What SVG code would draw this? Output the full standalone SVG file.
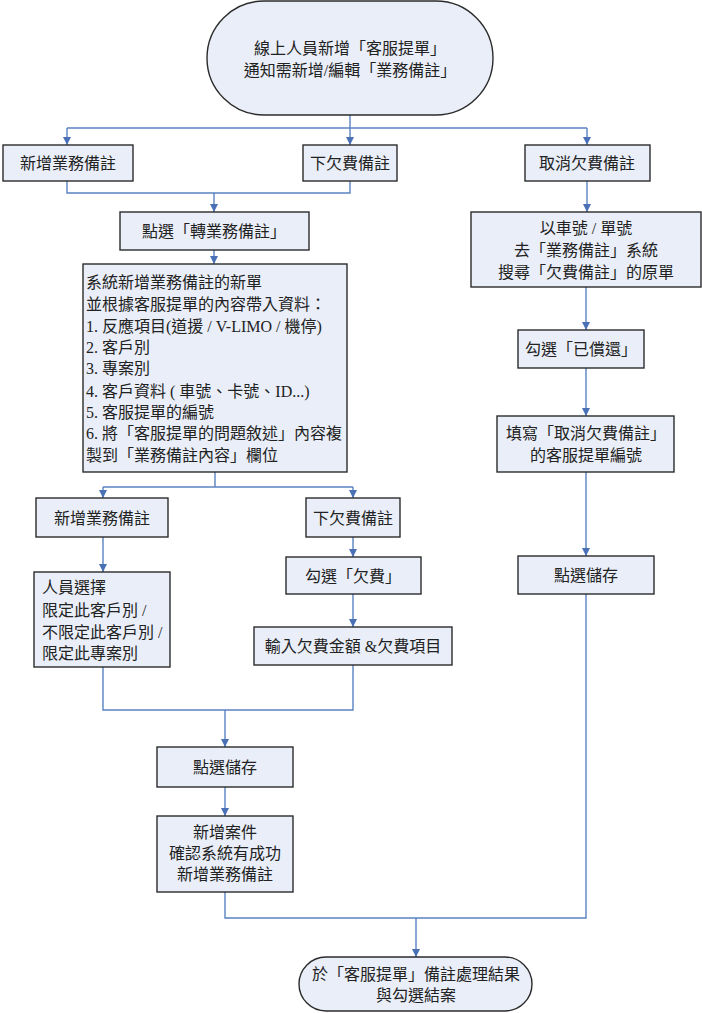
<svg xmlns="http://www.w3.org/2000/svg" width="702" height="1013" viewBox="0 0 702 1013">
<style>
.box{fill:#e9eef8;stroke:#2b2b2b;stroke-width:1.4}
.t{font-family:"Liberation Serif","Noto Sans CJK TC",serif;font-size:16px;fill:#222;dominant-baseline:central}
.c{text-anchor:middle}
.l{text-anchor:start}
.ln{fill:none;stroke:#5a82c2;stroke-width:1.4}
.ar{marker-end:url(#ah)}
</style>
<defs>
<marker id="ah" markerUnits="userSpaceOnUse" markerWidth="8" markerHeight="8" refX="8" refY="4" orient="auto">
<path d="M0,0 L8,4 L0,8 z" fill="#4a70b5"/>
</marker>
</defs>
<g id="connectors">
<path class="ln ar" d="M350,115 V145"/>
<path class="ln" d="M67,128 H587"/>
<path class="ln ar" d="M67,128 V145"/>
<path class="ln ar" d="M587,128 V145"/>
<path class="ln" d="M67,181 V193 H350 V181"/>
<path class="ln ar" d="M214,193 V212"/>
<path class="ln ar" d="M214,250 V264"/>
<path class="ln" d="M215,472 V487"/>
<path class="ln" d="M103,487 H353"/>
<path class="ln ar" d="M103,487 V498"/>
<path class="ln ar" d="M353,487 V498"/>
<path class="ln ar" d="M103,537 V572"/>
<path class="ln ar" d="M353,537 V557"/>
<path class="ln ar" d="M353,594 V627"/>
<path class="ln" d="M103,667 V710 H353 V665"/>
<path class="ln ar" d="M225,710 V747"/>
<path class="ln ar" d="M225,787 V816"/>
<path class="ln" d="M225,892 V918 H586 V594"/>
<path class="ln ar" d="M416,918 V957"/>
<path class="ln ar" d="M587,181 V212"/>
<path class="ln ar" d="M586,287 V330"/>
<path class="ln ar" d="M586,368 V416"/>
<path class="ln ar" d="M586,472 V556"/>
</g>
<g id="start">
<rect class="box" x="207" y="1" width="286" height="114" rx="57" ry="57"/>
<text class="t c" x="350" y="48">線上人員新增「客服提單」</text>
<text class="t c" x="350" y="70">通知需新增/編輯「業務備註」</text>
</g>
<g id="a_new">
<rect class="box" x="3" y="145" width="130" height="36"/>
<text class="t c" x="68" y="163">新增業務備註</text>
</g>
<g id="b_owe">
<rect class="box" x="303" y="145" width="94" height="36"/>
<text class="t c" x="350" y="163">下欠費備註</text>
</g>
<g id="c_cancel">
<rect class="box" x="525" y="145" width="125" height="36"/>
<text class="t c" x="587" y="163">取消欠費備註</text>
</g>
<g id="d_click">
<rect class="box" x="120" y="212" width="189" height="38"/>
<text class="t c" x="214" y="231">點選「轉業務備註」</text>
</g>
<g id="e_system">
<rect class="box" x="83" y="264" width="264" height="208"/>
<text class="t l" x="86" y="282">系統新增業務備註的新單</text>
<text class="t l" x="86" y="304">並根據客服提單的內容帶入資料：</text>
<text class="t l" x="86" y="326">1. 反應項目(道援 / V-LIMO / 機停)</text>
<text class="t l" x="86" y="347">2. 客戶別</text>
<text class="t l" x="86" y="368">3. 專案別</text>
<text class="t l" x="86" y="391">4. 客戶資料 ( 車號、卡號、ID...)</text>
<text class="t l" x="86" y="412">5. 客服提單的編號</text>
<text class="t l" x="86" y="433">6. 將「客服提單的問題敘述」內容複</text>
<text class="t l" x="86" y="455">製到「業務備註內容」欄位</text>
</g>
<g id="f_search">
<rect class="box" x="471" y="212" width="230" height="75"/>
<text class="t c" x="586" y="228">以車號 / 單號</text>
<text class="t c" x="586" y="250">去「業務備註」系統</text>
<text class="t c" x="586" y="272">搜尋「欠費備註」的原單</text>
</g>
<g id="g_repaid">
<rect class="box" x="518" y="330" width="126" height="38"/>
<text class="t c" x="581" y="349">勾選「已償還」</text>
</g>
<g id="h_fill">
<rect class="box" x="497" y="416" width="177" height="56"/>
<text class="t c" x="586" y="433">填寫「取消欠費備註」</text>
<text class="t c" x="586" y="455">的客服提單編號</text>
</g>
<g id="i_save">
<rect class="box" x="518" y="556" width="136" height="38"/>
<text class="t c" x="586" y="575">點選儲存</text>
</g>
<g id="j_new">
<rect class="box" x="36" y="498" width="132" height="39"/>
<text class="t c" x="102" y="518">新增業務備註</text>
</g>
<g id="k_owe">
<rect class="box" x="306" y="498" width="94" height="39"/>
<text class="t c" x="353" y="518">下欠費備註</text>
</g>
<g id="l_select">
<rect class="box" x="34" y="572" width="136" height="95"/>
<text class="t l" x="42" y="587">人員選擇</text>
<text class="t l" x="42" y="610">限定此客戶別 /</text>
<text class="t l" x="42" y="632">不限定此客戶別 /</text>
<text class="t l" x="42" y="653">限定此專案別</text>
</g>
<g id="m_owe">
<rect class="box" x="286" y="557" width="135" height="37"/>
<text class="t c" x="353" y="576">勾選「欠費」</text>
</g>
<g id="n_input">
<rect class="box" x="254" y="627" width="198" height="38"/>
<text class="t c" x="353" y="646">輸入欠費金額 &amp;欠費項目</text>
</g>
<g id="o_save">
<rect class="box" x="157" y="747" width="136" height="40"/>
<text class="t c" x="225" y="767">點選儲存</text>
</g>
<g id="p_confirm">
<rect class="box" x="157" y="816" width="136" height="76"/>
<text class="t c" x="225" y="832">新增案件</text>
<text class="t c" x="225" y="853">確認系統有成功</text>
<text class="t c" x="225" y="874">新增業務備註</text>
</g>
<g id="end">
<rect class="box" x="299" y="957" width="233" height="54" rx="27" ry="27"/>
<text class="t c" x="416" y="974">於「客服提單」備註處理結果</text>
<text class="t c" x="416" y="995">與勾選結案</text>
</g>
</svg>
